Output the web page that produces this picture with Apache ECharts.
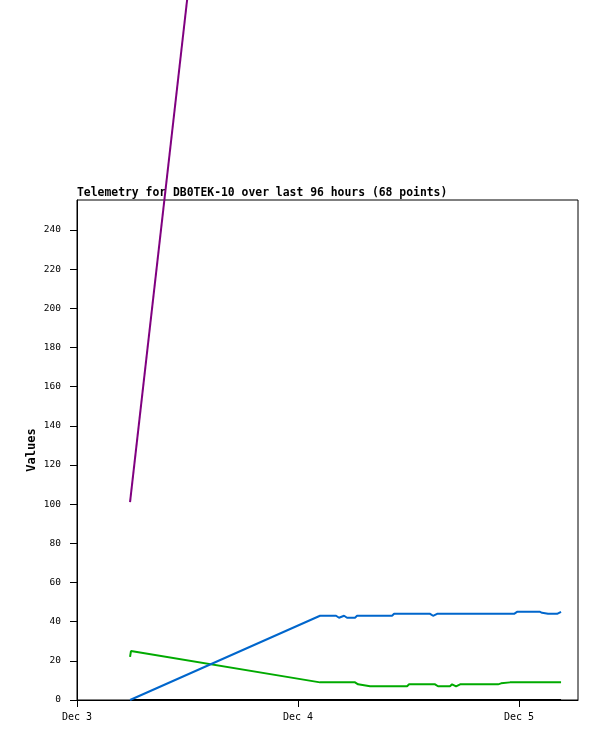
<!DOCTYPE html>
<html><head><meta charset="utf-8">
<script src="https://cdn.jsdelivr.net/npm/echarts@6/dist/echarts.min.js"></script>
<style>html,body{margin:0;padding:0;background:#fff}#c{width:597px;height:741px}</style>
</head><body><div id="c"></div>
<script>
// hours since Dec 3 00:00
var blueHours = [5.76, 26.39, 28.13, 28.45, 29.0, 29.32, 30.19, 30.41, 34.21, 34.43, 38.34, 38.66, 39.10, 47.46, 47.78, 50.28, 50.50, 51.15, 52.13, 52.56];
var blueValues = [0, 43, 43, 42, 43, 42, 42, 43, 43, 44, 44, 43, 44, 44, 45, 45, 44.5, 44, 44, 45];
var greenHours = [5.76, 5.86, 26.39, 30.19, 30.52, 31.82, 35.84, 36.06, 38.88, 39.2, 40.5, 40.73, 41.16, 41.6, 45.72, 46.05, 47.02, 52.56];
var greenValues = [22, 25, 9, 9, 8, 7, 7, 8, 8, 7, 7, 8, 7, 8, 8, 8.5, 9, 9];
var purpleHours = [5.76, 26.39];
var purpleValues = [101, 955];
var blackHours = [5.76, 52.56];
var blackValues = [0, 0];
var dayTicks = [0, 24, 48];
var dayLabels = ['Dec 3', 'Dec 4', 'Dec 5'];
var yTicks = [0, 20, 40, 60, 80, 100, 120, 140, 160, 180, 200, 220, 240];

function pairs(h, v) { return h.map(function (x, i) { return [x, v[i]]; }); }
var mono = 'DejaVu Sans Mono';
var chart = echarts.init(document.getElementById('c'), null, { renderer: 'canvas' });
chart.setOption({
  animation: false,
  backgroundColor: '#fff',
  title: {
    text: 'Telemetry for DB0TEK-10 over last 96 hours (68 points)',
    left: 72, top: 183, z: 0,
    textStyle: { fontFamily: mono, fontSize: 11.4, fontWeight: 'bold', color: '#000' }
  },
  grid: { left: 77, right: 19, top: 200, bottom: 41, show: true, borderColor: '#000', borderWidth: 1, z: 0 },
  xAxis: {
    type: 'value', min: 0, max: 54.4, interval: 24,
    axisLine: { lineStyle: { color: '#000', width: 1 } },
    axisTick: { length: 7, customValues: dayTicks, lineStyle: { color: '#000' } },
    splitLine: { show: false },
    axisLabel: { margin: 12, customValues: dayTicks, fontFamily: mono, fontSize: 10, color: '#000',
      formatter: function (v) { var i = dayTicks.indexOf(v); return i >= 0 ? dayLabels[i] : ''; } }
  },
  yAxis: {
    type: 'value', min: 0, max: 255.3, interval: 20,
    name: 'Values', nameLocation: 'middle', nameGap: 39, nameRotate: 90, nameMoveOverlap: false,
    nameTextStyle: { fontFamily: mono, fontSize: 12, fontWeight: 'bold', color: '#000' },
    axisLine: { show: true, lineStyle: { color: '#000', width: 1 } },
    axisTick: { length: 7, customValues: yTicks, lineStyle: { color: '#000' } },
    splitLine: { show: false },
    axisLabel: { margin: 16, customValues: yTicks, fontFamily: mono, fontSize: 9.5, color: '#000',
      formatter: function (v) { return String(v); } }
  },
  series: [
    { type: 'line', data: pairs(blackHours, blackValues), symbol: 'none', z: 3, lineStyle: { color: '#000', width: 2 } },
    { type: 'line', data: pairs(greenHours, greenValues), symbol: 'none', z: 4, lineStyle: { color: '#00aa00', width: 2 } },
    { type: 'line', data: pairs(blueHours, blueValues), symbol: 'none', z: 5, lineStyle: { color: '#0066cc', width: 2 } },
    { type: 'line', data: pairs(purpleHours, purpleValues), symbol: 'none', clip: false, z: 6, lineStyle: { color: '#800080', width: 2 } }
  ]
});
</script></body></html>
